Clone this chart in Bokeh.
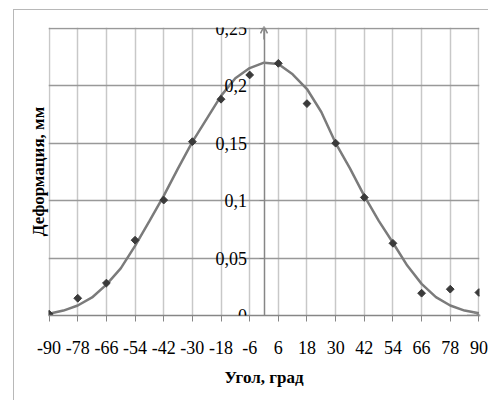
import numpy as np
from bokeh.plotting import figure
from bokeh.models import FixedTicker, LinearAxis, Range1d, Arrow, OpenHead
from bokeh.embed import file_html
from bokeh.resources import INLINE

# ---- data ----
angles = [-90, -78, -66, -54, -42, -30, -18, -6, 6, 18, 30, 42, 54, 66, 78, 90]
deformation = [0.0012, 0.0150, 0.0282, 0.0655, 0.1004, 0.1512, 0.1881, 0.2092,
               0.2193, 0.1843, 0.1499, 0.1027, 0.0628, 0.0194, 0.0229, 0.0200]

trend_angles = [-90, -84, -78, -72, -66, -60, -54, -48, -42, -36, -30, -24, -18, -12, -6, 0,
                6, 12, 18, 24, 30, 36, 42, 48, 54, 60, 66, 72, 78, 84, 90]
trend_values = [0.0015, 0.0043, 0.0087, 0.0157, 0.0268, 0.0410, 0.0605, 0.0820, 0.1040,
                0.1280, 0.1510, 0.1710, 0.1910, 0.2063, 0.2152, 0.2199,
                0.2188, 0.2098, 0.1970, 0.1770, 0.1500, 0.1280, 0.1040, 0.0825,
                0.0633, 0.0434, 0.0275, 0.0160, 0.0087, 0.0043, 0.0020]

x_ticks = angles
x_tick_labels = ["-90", "-78", "-66", "-54", "-42", "-30", "-18", "-6",
                 "6", "18", "30", "42", "54", "66", "78", "90"]
y_ticks = [0, 0.05, 0.1, 0.15, 0.2, 0.25]
y_tick_labels = ["0", "0,05", "0,1", "0,15", "0,2", "0,25"]
x_title = "Угол, град"
y_title = "Деформация, мм"

# ---- style ----
FONT = "Liberation Serif"
AXIS_COL = "#868686"
HGRID_COL = "#999999"
VGRID_COL = "#c8c8c8"
LINE_COL = "#7b7b7b"
POINT_COL = "#3a3a3a"

p = figure(width=475, height=391, output_backend="svg", toolbar_location=None,
           x_range=Range1d(-90.25, 90.25), y_range=Range1d(0, 0.2505),
           min_border_left=34, min_border_right=10, min_border_top=17,
           min_border_bottom=86)
p.outline_line_color = None
p.background_fill_color = "white"
p.border_fill_color = "white"
# outer chart border (left and top edges visible in the window)
p.styles = {"margin-left": "13px", "margin-top": "9px",
            "border-left": "1px solid #b8b8b8", "border-top": "1px solid #b8b8b8"}

# grid
p.xgrid.ticker = FixedTicker(ticks=x_ticks)
p.xgrid.grid_line_color = VGRID_COL
p.xgrid.grid_line_width = 1.5
p.ygrid.ticker = FixedTicker(ticks=y_ticks)
p.ygrid.grid_line_color = HGRID_COL
p.ygrid.grid_line_width = 1.5

# x axis
xa = p.xaxis[0]
xa.ticker = FixedTicker(ticks=x_ticks)
xa.major_label_overrides = dict(zip(x_ticks, x_tick_labels))
xa.axis_line_color = AXIS_COL
xa.axis_line_width = 1.5
xa.major_tick_line_color = AXIS_COL
xa.major_tick_out = 6
xa.major_tick_in = 0
xa.minor_tick_out = 0
xa.minor_tick_in = 0
xa.major_label_standoff = 19
xa.major_label_text_font = FONT
xa.major_label_text_font_size = "18px"
xa.major_label_text_color = "black"
xa.axis_label = x_title
xa.axis_label_text_font = FONT
xa.axis_label_text_font_style = "bold"
xa.axis_label_text_font_size = "17px"
xa.axis_label_text_color = "black"
xa.axis_label_standoff = 11

# y axis crossing at x = 0
ya = p.yaxis[0]
ya.fixed_location = 0
ya.ticker = FixedTicker(ticks=y_ticks)
ya.major_label_overrides = dict(zip(y_ticks, y_tick_labels))
ya.axis_line_color = AXIS_COL
ya.axis_line_width = 1.5
ya.major_tick_line_color = AXIS_COL
ya.major_tick_out = 5
ya.major_tick_in = 0
ya.minor_tick_out = 0
ya.minor_tick_in = 0
ya.major_label_standoff = 12
ya.major_label_text_font = FONT
ya.major_label_text_font_size = "18px"
ya.major_label_text_color = "black"

# y title on the left side
ta = LinearAxis(axis_label=y_title, ticker=FixedTicker(ticks=[]),
                axis_line_color=None, major_tick_out=0, major_tick_in=0,
                minor_tick_out=0, minor_tick_in=0,
                major_label_text_font_size="0px", axis_label_standoff=1)
ta.axis_label_text_font = FONT
ta.axis_label_text_font_style = "bold"
ta.axis_label_text_font_size = "17px"
ta.axis_label_text_color = "black"
p.add_layout(ta, "left")

# axis arrows
p.add_layout(Arrow(end=OpenHead(size=7, line_color=AXIS_COL, line_width=1.5),
                   x_start=85, y_start=0, x_end=90.6, y_end=0,
                   line_color=AXIS_COL, line_width=1.5))
p.add_layout(Arrow(end=OpenHead(size=7, line_color=AXIS_COL, line_width=1.5),
                   x_start=0, y_start=0.24, x_end=0, y_end=0.2515,
                   line_color=AXIS_COL, line_width=1.5))

# data
p.line(trend_angles, trend_values, line_width=2.5, line_color=LINE_COL)
p.scatter(angles, deformation, marker="square", angle=np.pi / 4, size=5.5,
          fill_color=POINT_COL, line_color=POINT_COL)

open("out.html", "w").write(file_html(p, INLINE))
